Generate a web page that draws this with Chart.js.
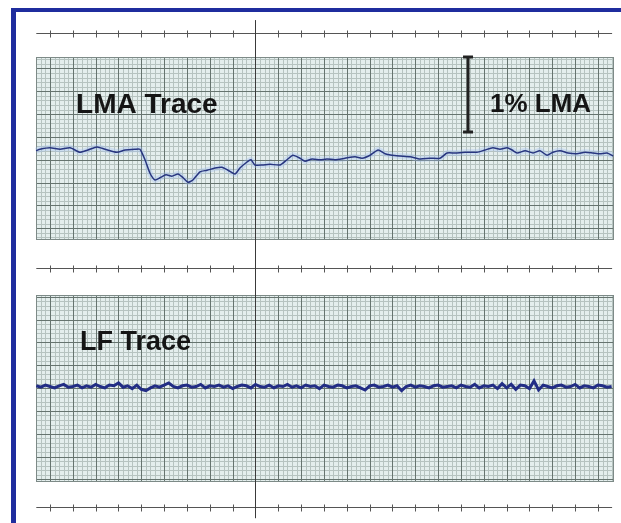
<!DOCTYPE html>
<html>
<head>
<meta charset="utf-8">
<script src="https://cdn.jsdelivr.net/npm/chart.js@4.4.1/dist/chart.umd.min.js"></script>
<style>
  body { margin: 0; background: #fff; }
  #wrap { position: relative; width: 621px; height: 523px; }
  #frame { position: absolute; left: 11px; top: 8px; right: 0; bottom: 0;
           border-left: 5px solid #1f2d9e; border-top: 4px solid #1f2d9e; pointer-events: none; }
</style>
</head>
<body>
<div id="wrap">
  <canvas id="strip" width="621" height="523"></canvas>
  <div id="frame"></div>
</div>
<script>
// LMA trace: time in chart divisions, value in % LMA
const lmaTime = [-0.61, -0.44, 0, 0.44, 0.88, 1.31, 1.66, 2.06, 2.41, 2.93, 3.29, 3.72, 3.94, 4.16, 4.38, 4.60,
  4.82, 5.08, 5.34, 5.61, 5.83, 6.04, 6.26, 6.57, 6.88, 7.23, 7.53, 7.80, 8.10, 8.32, 8.63, 8.80, 8.98, 9.29,
  9.64, 10.07, 10.38, 10.64, 10.95, 11.17, 11.48, 11.83, 12.13, 12.48, 12.92, 13.36, 13.67, 14.02, 14.37,
  14.67, 14.98, 15.33, 15.77, 16.21, 16.64, 17.08, 17.39, 17.74, 18.18, 18.70, 19.05, 19.40, 19.71, 20.02,
  20.24, 20.46, 20.81, 21.16, 21.46, 21.77, 22.03, 22.34, 22.69, 23.08, 23.43, 23.78, 24.09, 24.40, 24.66];
const lmaValues = [-0.01, 0.01, 0.03, 0.01, 0.03, -0.03, 0, 0.04, 0.01, -0.03, 0, 0.01, 0.01, -0.13, -0.31, -0.40,
  -0.37, -0.33, -0.35, -0.32, -0.37, -0.43, -0.40, -0.29, -0.27, -0.24, -0.23, -0.27, -0.32, -0.24, -0.16, -0.13,
  -0.20, -0.20, -0.19, -0.20, -0.13, -0.07, -0.11, -0.15, -0.12, -0.13, -0.12, -0.13, -0.11, -0.09, -0.11, -0.07,
  0, -0.05, -0.07, -0.08, -0.09, -0.12, -0.11, -0.11, -0.04, -0.04, -0.03, -0.03, 0, 0.03, 0.01, 0.03, 0, -0.04,
  -0.01, -0.04, -0.01, -0.07, -0.03, -0.01, -0.04, -0.05, -0.03, -0.04, -0.05, -0.04, -0.08];

// LF trace: sampled every 0.2 division starting at -0.6
const lfStart = -0.6;
const lfStep = 0.2;
const lfValues = [0.1, -0.1, 0.2, 0, -0.2, 0.1, 0.3, -0.1, 0, 0.2,
  -0.2, 0.1, -0.1, 0.3, 0, -0.2, 0.2, 0.1, 0.5, -0.1,
  0.1, -0.3, 0.2, -0.4, -0.6, -0.2, 0.1, -0.1, 0.2, 0.5,
  0, -0.2, 0.1, 0.2, -0.1, 0, 0.3, -0.2, 0.1, 0,
  0.2, -0.1, 0.1, -0.3, 0, 0.2, 0.1, -0.2, 0.3, 0,
  -0.1, 0.2, -0.2, 0.1, 0, 0.3, -0.1, 0.1, -0.2, 0.2,
  0, 0.1, -0.3, 0.2, 0, -0.1, 0.2, 0.1, -0.2, 0,
  0.1, -0.2, -0.5, 0.1, 0.2, -0.1, 0, 0.2, -0.1, 0.1,
  -0.6, 0, 0.2, -0.1, 0.1, 0, -0.2, 0.1, 0.2, -0.1,
  0, 0.1, -0.2, 0.2, 0, -0.1, 0.3, -0.2, 0.1, 0,
  0.2, -0.3, 0.4, -0.2, 0.3, -0.4, 0.2, 0.1, -0.3, 0.8,
  -0.5, 0.2, 0, -0.2, 0.1, 0.2, -0.1, 0, 0.3, -0.2,
  0.1, 0, -0.2, 0.2, 0.1, -0.1, 0];

// 1% LMA calibration bar
const calTime = [18.31, 18.31];
const calValues = [0.24, 1.24];

const lmaData = lmaTime.map((t, i) => ({ x: t, y: lmaValues[i] }));
const lfData = lfValues.map((v, i) => ({ x: lfStart + i * lfStep, y: v }));
const calData = calTime.map((t, i) => ({ x: t, y: calValues[i] }));

// draws the chart paper, tick rows, marker line and captions
const paperPlugin = {
  id: 'paper',
  beforeDatasetsDraw(chart, args, opts) {
    const ctx = chart.ctx, xs = chart.scales.x, ps = chart.scales.paper;
    ctx.save();
    opts.panels.forEach(pn => {
      const l = Math.round(xs.getPixelForValue(opts.left)), r = Math.round(xs.getPixelForValue(opts.right));
      const t = Math.round(ps.getPixelForValue(pn.top)), b = Math.round(ps.getPixelForValue(pn.bottom));
      ctx.fillStyle = '#e4eeed';
      ctx.fillRect(l, t, r - l, b - t);
      const line = (x1, y1, x2, y2, c, w) => {
        ctx.strokeStyle = c; ctx.lineWidth = w;
        ctx.beginPath(); ctx.moveTo(x1, y1); ctx.lineTo(x2, y2); ctx.stroke();
      };
      // minor first, then major
      [false, true].forEach(major => {
        for (let k = Math.ceil(opts.left * 5); k <= Math.floor(opts.right * 5); k++) {
          if ((k % 5 === 0) !== major) continue;
          const px = Math.round(xs.getPixelForValue(k / 5)) + 0.5;
          line(px, t, px, b, major ? '#66746f' : '#b6c3c0', 1);
        }
        for (let k = Math.ceil(pn.top * 5); k <= Math.floor(pn.bottom * 5); k++) {
          if ((k % 5 === 0) !== major) continue;
          const py = Math.round(ps.getPixelForValue(k / 5)) + 0.5;
          line(l, py, r, py, major ? '#66746f' : '#b6c3c0', 1);
        }
      });
      ctx.strokeStyle = '#7d8a87'; ctx.lineWidth = 1;
      ctx.strokeRect(l + 0.5, t + 0.5, r - l - 1, b - t - 1);
    });
    // tick rows
    ctx.strokeStyle = '#555'; ctx.lineWidth = 1;
    opts.tickRows.forEach(row => {
      const py = Math.round(ps.getPixelForValue(row)) + 0.5;
      ctx.beginPath();
      ctx.moveTo(xs.getPixelForValue(opts.left), py);
      ctx.lineTo(xs.getPixelForValue(opts.right - 0.1), py);
      for (let k = 0; k <= 24; k++) {
        const px = Math.round(xs.getPixelForValue(k)) + 0.5;
        ctx.moveTo(px, py - 3); ctx.lineTo(px, py + 4);
      }
      ctx.stroke();
    });
    // marker line
    const mx = Math.round(xs.getPixelForValue(opts.marker.x)) + 0.5;
    ctx.strokeStyle = '#3a3a3a'; ctx.lineWidth = 1;
    ctx.beginPath();
    ctx.moveTo(mx, ps.getPixelForValue(opts.marker.from));
    ctx.lineTo(mx, ps.getPixelForValue(opts.marker.to));
    ctx.stroke();
    ctx.restore();
  },
  afterDatasetsDraw(chart, args, opts) {
    const ctx = chart.ctx, xs = chart.scales.x, ps = chart.scales.paper;
    ctx.save();
    ctx.fillStyle = '#151515';
    ctx.textBaseline = 'alphabetic';
    opts.captions.forEach(c => {
      ctx.font = 'bold ' + c.size + 'px "Liberation Sans", Arial, sans-serif';
      ctx.fillText(c.text, xs.getPixelForValue(c.x), ps.getPixelForValue(c.y));
    });
    ctx.restore();
  }
};

new Chart(document.getElementById('strip'), {
  type: 'line',
  data: {
    datasets: [
      { data: lmaData, yAxisID: 'yLMA', borderColor: '#27357f', borderWidth: 1.5, pointRadius: 0, tension: 0.2 },
      { data: lfData, yAxisID: 'yLF', borderColor: '#222d85', borderWidth: 3, pointRadius: 0, tension: 0 },
      { data: calData, yAxisID: 'yLMA', borderColor: '#222', borderWidth: 3, pointStyle: 'line',
        pointRadius: 5, pointBorderWidth: 3, pointBorderColor: '#222' },
      { data: lmaData, yAxisID: 'yLMA', borderColor: 'rgba(160,190,240,0.35)', borderWidth: 6, pointRadius: 0, tension: 0.2 }
    ]
  },
  options: {
    responsive: false,
    animation: false,
    layout: { padding: 0, autoPadding: false },
    scales: {
      x: { type: 'linear', axis: 'x', position: 'bottom', min: -2.19, max: 25.01, display: false },
      paper: { type: 'linear', axis: 'y', position: 'left', min: 0, max: 22.91, reverse: true, display: false },
      yLMA: { type: 'linear', axis: 'y', position: 'left', min: -4.973, max: 2.0, display: false },
      yLF: { type: 'linear', axis: 'y', position: 'left', min: -19.5, max: 55.21, display: false }
    },
    plugins: {
      legend: { display: false },
      tooltip: { enabled: false },
      paper: {
        left: -0.6, right: 24.72,
        panels: [{ top: 2.5, bottom: 10.51 }, { top: 12.92, bottom: 21.11 }],
        tickRows: [1.43, 11.74, 22.2],
        marker: { x: 9, from: 0.88, to: 22.7 },
        captions: [
          { text: 'LMA Trace', x: 1.14, y: 4.95, size: 28 },
          { text: '1% LMA', x: 19.27, y: 4.9, size: 26 },
          { text: 'LF Trace', x: 1.31, y: 15.33, size: 27 }
        ]
      }
    }
  },
  plugins: [paperPlugin]
});
</script>
</body>
</html>
